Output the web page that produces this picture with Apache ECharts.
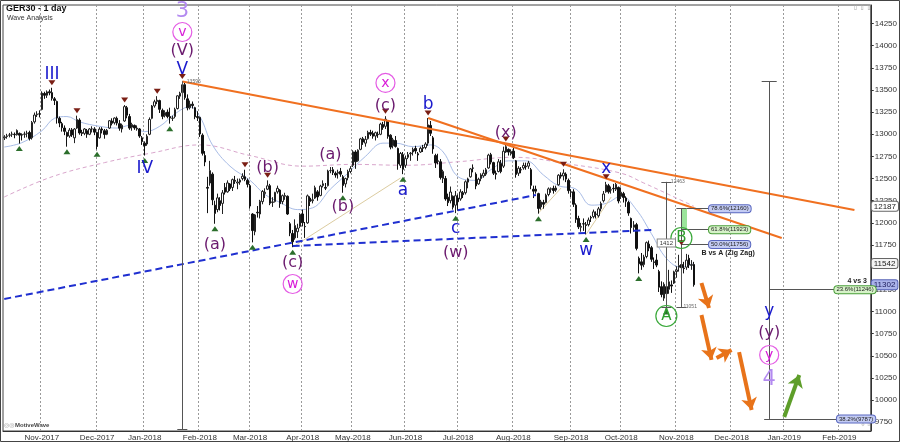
<!DOCTYPE html>
<html><head><meta charset="utf-8">
<script src="https://cdn.jsdelivr.net/npm/echarts@6/dist/echarts.min.js"></script>
<style>html,body{margin:0;padding:0;background:#fff}#c{width:900px;height:442px}</style>
</head><body><div id="c"></div>
<script>
// ---------------- DATA ----------------
const START_DAY = '2017-10-11';
const END_DAY = '2019-02-19';
const HOLIDAYS = ['2017-12-25','2017-12-26','2018-01-01','2018-03-30','2018-04-02','2018-05-01','2018-05-21','2018-10-03','2019-01-01'];
const MONTHS = ['Jan','Feb','Mar','Apr','May','Jun','Jul','Aug','Sep','Oct','Nov','Dec'];
const Y_TICKS = [9750,10000,10250,10500,10750,11000,11250,11500,11750,12000,12250,12500,12750,13000,13250,13500,13750,14000,14250];

// [date, open, close, low, high]
const CANDLES = [
['2017-10-11',12960,12970,12935,12990],['2017-10-12',12975,12982,12950,13005],['2017-10-13',12990,12992,12965,13015],
['2017-10-16',13000,13003,12970,13030],['2017-10-17',13000,12995,12955,13020],['2017-10-18',12995,13043,12985,13055],
['2017-10-19',13010,12990,12895,13020],['2017-10-20',12995,12991,12930,13010],['2017-10-23',13000,13003,12960,13030],
['2017-10-24',13010,13013,12965,13040],['2017-10-25',13020,12953,12930,13040],['2017-10-26',12960,13133,12940,13150],
['2017-10-27',13140,13217,13120,13245],['2017-10-30',13220,13229,13195,13260],['2017-10-31',13230,13229,13190,13270],
['2017-11-01',13280,13465,13270,13485],['2017-11-02',13460,13440,13400,13480],['2017-11-03',13440,13478,13410,13495],
['2017-11-06',13480,13468,13440,13505],['2017-11-07',13470,13406,13380,13525],['2017-11-08',13400,13382,13330,13420],
['2017-11-09',13370,13183,13120,13380],['2017-11-10',13180,13127,13080,13200],['2017-11-13',13120,13074,13030,13140],
['2017-11-14',13070,13033,12990,13100],['2017-11-15',13020,12976,12860,13030],['2017-11-16',12980,13047,12960,13070],
['2017-11-17',13050,12993,12970,13070],['2017-11-20',12960,13059,12900,13070],['2017-11-21',13070,13167,13060,13210],
['2017-11-22',13160,13015,12995,13180],['2017-11-23',13020,13008,12980,13050],['2017-11-24',13010,13060,12990,13070],
['2017-11-27',13040,13000,12960,13060],['2017-11-28',13000,13060,12990,13070],['2017-11-29',13060,13061,13020,13090],
['2017-11-30',13060,13024,12990,13080],
['2017-12-01',13020,12862,12830,13030],['2017-12-04',12960,13058,12950,13080],['2017-12-05',13060,13048,13010,13080],
['2017-12-06',13040,12998,12950,13060],['2017-12-07',13000,13045,12990,13060],['2017-12-08',13070,13153,13060,13160],
['2017-12-11',13150,13123,13100,13180],['2017-12-12',13130,13183,13110,13190],['2017-12-13',13180,13126,13100,13200],
['2017-12-14',13120,13069,13040,13160],['2017-12-15',13060,13103,13020,13120],['2017-12-18',13150,13312,13140,13330],
['2017-12-19',13300,13215,13180,13320],['2017-12-20',13200,13070,13050,13230],['2017-12-21',13080,13110,13040,13130],
['2017-12-22',13100,13072,13050,13110],['2017-12-27',13060,13070,13040,13100],['2017-12-28',13060,12980,12960,13070],
['2017-12-29',12960,12918,12880,12980],
['2018-01-02',12900,12871,12760,12920],['2018-01-03',12890,12978,12870,13000],['2018-01-04',13000,13167,12990,13190],
['2018-01-05',13180,13319,13170,13330],['2018-01-08',13320,13367,13300,13390],['2018-01-09',13370,13385,13340,13430],
['2018-01-10',13380,13282,13240,13390],['2018-01-11',13270,13202,13170,13290],['2018-01-12',13210,13245,13190,13270],
['2018-01-15',13250,13200,13180,13280],['2018-01-16',13200,13183,13120,13300],['2018-01-17',13180,13183,13150,13210],
['2018-01-18',13200,13281,13180,13300],['2018-01-19',13290,13434,13280,13440],['2018-01-22',13430,13463,13400,13480],
['2018-01-23',13470,13559,13450,13596],['2018-01-24',13560,13414,13390,13580],['2018-01-25',13400,13298,13270,13450],
['2018-01-26',13300,13340,13280,13380],['2018-01-29',13340,13324,13290,13370],['2018-01-30',13300,13197,13170,13310],
['2018-01-31',13200,13189,13150,13260],
['2018-02-01',13190,13004,12970,13200],['2018-02-02',12990,12785,12760,13010],['2018-02-05',12760,12687,12640,12810],
['2018-02-06',12400,12392,12110,12520],['2018-02-07',12450,12590,12420,12700],['2018-02-08',12550,12260,12200,12570],
['2018-02-09',12200,12107,11990,12250],['2018-02-12',12150,12282,12120,12330],['2018-02-13',12250,12196,12140,12290],
['2018-02-14',12220,12339,12100,12370],['2018-02-15',12400,12346,12320,12450],['2018-02-16',12350,12451,12340,12480],
['2018-02-19',12440,12385,12360,12450],['2018-02-20',12400,12488,12360,12500],['2018-02-21',12480,12470,12440,12530],
['2018-02-22',12450,12461,12380,12500],['2018-02-23',12460,12483,12430,12500],['2018-02-26',12500,12527,12480,12560],
['2018-02-27',12520,12490,12470,12600],['2018-02-28',12480,12435,12400,12500],
['2018-03-01',12420,12190,12160,12440],['2018-03-02',12100,11913,11780,12110],['2018-03-05',11900,12090,11860,12100],
['2018-03-06',12120,12113,12060,12190],['2018-03-07',12100,12245,12050,12260],['2018-03-08',12240,12355,12210,12370],
['2018-03-09',12330,12346,12280,12390],['2018-03-12',12380,12418,12370,12480],['2018-03-13',12420,12221,12200,12440],
['2018-03-14',12230,12237,12180,12290],['2018-03-15',12240,12345,12230,12350],['2018-03-16',12350,12390,12330,12420],
['2018-03-19',12370,12217,12170,12380],['2018-03-20',12240,12307,12210,12320],['2018-03-21',12300,12309,12260,12340],
['2018-03-22',12300,12100,12090,12310],['2018-03-23',11990,11886,11850,12010],['2018-03-26',11880,11787,11726,11920],
['2018-03-27',11830,11970,11810,12040],['2018-03-28',11900,11940,11830,11990],['2018-03-29',11960,12096,11940,12110],
['2018-04-03',12100,12002,11960,12150],['2018-04-04',11960,11957,11830,12010],['2018-04-05',12000,12305,11990,12320],
['2018-04-06',12280,12241,12190,12300],['2018-04-09',12250,12261,12220,12330],['2018-04-10',12280,12397,12270,12420],
['2018-04-11',12350,12293,12250,12370],['2018-04-12',12310,12415,12300,12430],['2018-04-13',12420,12442,12400,12480],
['2018-04-16',12400,12392,12370,12450],['2018-04-17',12420,12585,12410,12600],['2018-04-18',12590,12590,12560,12630],
['2018-04-19',12600,12567,12540,12630],['2018-04-20',12560,12540,12510,12580],['2018-04-23',12560,12572,12500,12600],
['2018-04-24',12580,12550,12520,12620],['2018-04-25',12520,12422,12340,12540],['2018-04-26',12440,12500,12400,12510],
['2018-04-27',12510,12580,12480,12600],['2018-04-30',12580,12612,12560,12640],
['2018-05-02',12650,12802,12630,12820],['2018-05-03',12800,12690,12610,12820],['2018-05-04',12700,12820,12690,12830],
['2018-05-07',12830,12948,12820,12960],['2018-05-08',12950,12912,12880,12970],['2018-05-09',12900,12943,12860,12980],
['2018-05-10',12950,13022,12940,13040],['2018-05-11',13020,13001,12980,13050],['2018-05-14',13010,12978,12950,13040],
['2018-05-15',12980,13018,12930,13030],['2018-05-16',13000,12996,12960,13030],['2018-05-17',13000,13115,12990,13130],
['2018-05-18',13110,13077,13050,13140],['2018-05-22',13090,13170,13060,13204],['2018-05-23',13150,12977,12950,13160],
['2018-05-24',12990,12855,12830,13000],['2018-05-25',12870,12938,12840,12960],['2018-05-28',12930,12863,12850,12980],
['2018-05-29',12840,12666,12600,12850],['2018-05-30',12650,12783,12620,12800],['2018-05-31',12770,12605,12550,12800],
['2018-06-01',12650,12725,12620,12760],['2018-06-04',12740,12770,12720,12800],['2018-06-05',12780,12787,12700,12800],
['2018-06-06',12800,12830,12760,12850],['2018-06-07',12840,12811,12780,12870],['2018-06-08',12780,12767,12700,12800],
['2018-06-11',12800,12842,12790,12860],['2018-06-12',12850,12842,12800,12880],['2018-06-13',12850,12890,12830,12910],
['2018-06-14',12900,13107,12870,13184],['2018-06-15',13100,13011,12980,13150],['2018-06-18',12960,12835,12780,12980],
['2018-06-19',12760,12677,12620,12780],['2018-06-20',12700,12695,12660,12780],['2018-06-21',12690,12512,12490,12720],
['2018-06-22',12500,12580,12450,12600],['2018-06-25',12500,12270,12250,12530],['2018-06-26',12290,12228,12190,12330],
['2018-06-27',12250,12348,12220,12410],['2018-06-28',12300,12177,12150,12310],['2018-06-29',12200,12306,12110,12360],
['2018-07-02',12280,12238,12140,12320],['2018-07-03',12270,12349,12250,12380],['2018-07-04',12340,12318,12280,12360],
['2018-07-05',12340,12464,12320,12480],['2018-07-06',12460,12496,12390,12510],['2018-07-09',12520,12609,12510,12620],
['2018-07-10',12620,12617,12570,12660],['2018-07-11',12550,12417,12380,12570],['2018-07-12',12440,12492,12430,12510],
['2018-07-13',12500,12541,12470,12560],['2018-07-16',12530,12561,12510,12600],['2018-07-17',12550,12600,12530,12620],
['2018-07-18',12620,12765,12610,12780],['2018-07-19',12770,12686,12660,12790],['2018-07-20',12680,12561,12540,12690],
['2018-07-23',12560,12548,12490,12590],['2018-07-24',12580,12689,12570,12720],['2018-07-25',12670,12579,12560,12710],
['2018-07-26',12640,12809,12620,12860],['2018-07-27',12800,12860,12790,12890],['2018-07-30',12830,12799,12760,12840],
['2018-07-31',12780,12806,12760,12830],
['2018-08-01',12810,12737,12720,12850],['2018-08-02',12700,12546,12510,12710],['2018-08-03',12560,12616,12530,12640],
['2018-08-06',12600,12598,12560,12630],['2018-08-07',12620,12648,12600,12680],['2018-08-08',12640,12633,12600,12680],
['2018-08-09',12640,12676,12610,12700],['2018-08-10',12600,12424,12380,12620],['2018-08-13',12380,12358,12280,12420],
['2018-08-14',12380,12358,12330,12420],['2018-08-15',12330,12163,12104,12340],['2018-08-16',12180,12237,12150,12260],
['2018-08-17',12230,12210,12160,12260],['2018-08-20',12230,12313,12220,12330],['2018-08-21',12320,12384,12300,12400],
['2018-08-22',12380,12385,12340,12400],['2018-08-23',12390,12365,12330,12420],['2018-08-24',12370,12394,12350,12420],
['2018-08-27',12430,12538,12420,12550],['2018-08-28',12540,12527,12500,12570],['2018-08-29',12530,12562,12480,12605],
['2018-08-30',12550,12494,12460,12570],['2018-08-31',12480,12364,12330,12500],
['2018-09-03',12350,12346,12290,12380],['2018-09-04',12350,12210,12180,12380],['2018-09-05',12200,12040,12000,12220],
['2018-09-06',12050,11955,11930,12080],['2018-09-07',11950,11960,11900,12000],['2018-09-10',11990,11987,11910,12050],
['2018-09-11',11980,11970,11870,12010],['2018-09-12',11980,12032,11960,12060],['2018-09-13',12060,12055,12010,12080],
['2018-09-14',12070,12124,12050,12150],['2018-09-17',12100,12096,12050,12130],['2018-09-18',12080,12158,12060,12180],
['2018-09-19',12160,12219,12130,12240],['2018-09-20',12250,12326,12230,12360],['2018-09-21',12350,12431,12340,12463],
['2018-09-24',12420,12350,12330,12440],['2018-09-25',12370,12374,12330,12410],['2018-09-26',12390,12385,12340,12440],
['2018-09-27',12380,12435,12360,12450],['2018-09-28',12400,12247,12220,12410],
['2018-10-01',12300,12346,12270,12400],['2018-10-02',12330,12287,12230,12350],['2018-10-04',12280,12244,12180,12300],
['2018-10-05',12230,12111,12080,12250],['2018-10-08',12050,11947,11880,12060],['2018-10-09',11950,11977,11900,12020],
['2018-10-10',11980,11712,11690,12000],['2018-10-11',11600,11539,11430,11620],['2018-10-12',11560,11523,11470,11660],
['2018-10-15',11530,11614,11500,11640],['2018-10-16',11620,11777,11600,11790],['2018-10-17',11760,11715,11680,11800],
['2018-10-18',11720,11589,11560,11740],['2018-10-19',11560,11553,11480,11610],['2018-10-22',11580,11524,11500,11650],
['2018-10-23',11450,11274,11220,11470],['2018-10-24',11280,11191,11160,11340],['2018-10-25',11150,11307,11120,11330],
['2018-10-26',11280,11201,11051,11300],['2018-10-29',11250,11335,11200,11470],['2018-10-30',11300,11287,11210,11350],
['2018-10-31',11320,11447,11310,11460],
['2018-11-01',11450,11468,11380,11510],['2018-11-02',11500,11519,11450,11640],['2018-11-05',11530,11494,11440,11720],
['2018-11-06',11490,11484,11430,11560],['2018-11-07',11500,11579,11470,11650],['2018-11-08',11600,11527,11490,11640],
['2018-11-09',11520,11529,11470,11580],['2018-11-12',11530,11302,11280,11560]
];

// moving averages at sample dates
const MA_SHORT = [
['2017-10-11',12856],['2017-10-20',12905],['2017-11-01',13040],['2017-11-08',13180],['2017-11-15',13200],
['2017-11-22',13140],['2017-12-04',13090],['2017-12-13',13070],['2017-12-20',13100],['2018-01-02',13030],
['2018-01-10',13090],['2018-01-18',13230],['2018-01-26',13310],['2018-02-01',13200],['2018-02-08',12880],
['2018-02-19',12640],['2018-03-01',12480],['2018-03-09',12320],['2018-03-19',12230],['2018-03-28',12150],
['2018-04-09',12170],['2018-04-18',12380],['2018-04-27',12560],['2018-05-09',12750],['2018-05-18',12900],
['2018-05-28',12900],['2018-06-06',12860],['2018-06-15',12880],['2018-06-22',12800],['2018-07-02',12520],
['2018-07-11',12480],['2018-07-19',12600],['2018-07-30',12700],['2018-08-08',12700],['2018-08-17',12540],
['2018-08-27',12420],['2018-09-05',12380],['2018-09-13',12200],['2018-09-21',12220],['2018-10-01',12300],
['2018-10-10',12150],['2018-10-18',11880],['2018-10-26',11600],['2018-11-05',11500],['2018-11-12',11542]
];
const MA_LONG = [
['2017-10-11',12292],['2017-11-07',12520],['2017-12-06',12680],['2018-01-05',12790],['2018-02-01',12880],
['2018-03-01',12760],['2018-04-03',12640],['2018-05-02',12660],['2018-06-01',12650],['2018-07-02',12690],
['2018-08-01',12740],['2018-09-03',12660],['2018-10-01',12560],['2018-10-15',12450],['2018-10-29',12320],
['2018-11-12',12187]
];

const SWING_HIGHS = ['2017-11-07','2017-11-21','2017-12-18','2018-01-09','2018-01-23','2018-02-27','2018-03-12',
  '2018-05-22','2018-06-14','2018-07-27','2018-08-29','2018-09-21','2018-11-05'];
const SWING_LOWS = ['2017-10-19','2017-11-15','2017-12-01','2018-01-02','2018-01-16','2018-02-09','2018-03-02',
  '2018-03-26','2018-04-25','2018-05-31','2018-06-29','2018-08-15','2018-09-11','2018-10-11','2018-10-26'];

// [date, price, text, kind]
const WAVE_LABELS = [
['2018-01-23',14390,'3','num'],['2018-01-23',14154,'v','circM'],['2018-01-23',13940,'(V)','purple'],
['2018-01-23',13725,'V','blue'],['2017-11-07',13669,'III','blue'],['2018-01-02',12608,'IV','blue'],
['2018-02-09',11750,'(a)','purple'],['2018-03-12',12619,'(b)','purple'],['2018-03-26',11547,'(c)','purple'],
['2018-03-26',11310,'w','circM'],['2018-04-18',12766,'(a)','purple'],['2018-04-25',12179,'(b)','purple'],
['2018-05-22',13579,'x','circM'],['2018-05-22',13319,'(c)','purple'],['2018-05-31',12360,'a','blue'],
['2018-06-14',13330,'b','blue'],['2018-06-29',11931,'c','blue'],['2018-06-29',11660,'(w)','purple'],
['2018-07-27',13014,'(x)','purple'],['2018-09-21',12608,'x','blue'],['2018-09-11',11683,'w','blue'],
['2018-11-05',11829,'B','circG'],['2018-10-26',10949,'A','circG'],
['2018-12-24',10994,'y','blue'],['2018-12-24',10757,'(y)','purple'],['2018-12-24',10509,'y','circM'],
['2018-12-24',10227,'4','num']
];

const ORANGE_LINES = [[['2018-01-23',13596],['2019-02-11',12145]], [['2018-06-14',13184],['2018-12-31',11829]]];
const BLUE_DASHED = [[['2017-10-11',11141],['2018-08-14',12314]], [['2018-03-26',11739],['2018-10-18',11919]]];
const GUIDE_LINES = [[['2018-03-26',11726],['2018-05-30',12506]], [['2018-08-15',12111],['2018-08-28',12393]], [['2018-09-11',11870],['2018-09-25',12292]]];
const ORANGE_ARROWS = [
 [['2018-11-15',11321],['2018-11-20',11039]],
 [['2018-11-15',10960],['2018-11-21',10454]],
 [['2018-11-23',10475],['2018-12-03',10565]],
 [['2018-12-06',10542],['2018-12-13',9888]]
];
const GREEN_ARROWS = [[['2019-01-02',9809],['2019-01-10',10283]]];

// wave-3 top, wave A measure, B-vs-A and 4-vs-3 fib levels
const V_TOP = ['2018-01-23',13596];
const V_DROP_END = 9673;
const A_MEASURE = ['2018-10-26',12463,11051];
const B_MEASURE = ['2018-11-05',11051];
const B_FIBS = [[78.6,12160],[61.8,11923],[50.0,11756]];
const B_FIB_END = '2018-11-20';
const W4_MEASURE = ['2018-12-24',13596];
const W4_FIBS = [[23.6,11246,'2019-01-30'],[38.2,9787,'2019-01-31']];
const AXIS_MARKS = [[12187,'white'],[11542,'grey'],[11302,'blue']];

// ---------------- BUILD ----------------
function buildDates(){
  const out=[]; let t=Date.parse(START_DAY+'T00:00:00Z'); const e=Date.parse(END_DAY+'T00:00:00Z');
  while(t<=e){ const d=new Date(t); const wd=d.getUTCDay(); const s=d.toISOString().slice(0,10);
    if(wd!==0&&wd!==6&&HOLIDAYS.indexOf(s)<0) out.push(s); t+=86400000; }
  return out;
}
const dates = buildDates();
const idxOf = {}; dates.forEach((d,i)=>idxOf[d]=i);
const I = d => idxOf[d];
const monthStart = new Set();
dates.forEach((d,i)=>{ if(i>0 && d.slice(0,7)!==dates[i-1].slice(0,7)) monthStart.add(i); });

const byDate = {}; CANDLES.forEach(r=>byDate[r[0]]=r.slice(1));
const lastIdx = I(CANDLES[CANDLES.length-1][0]);
const candleData = [];
for(let i=0;i<=lastIdx;i++){ const r=byDate[dates[i]]; candleData.push(r?r:'-'); }

const FONT = '"DejaVu Sans", Verdana, sans-serif';
const SFONT = '"Liberation Sans", Arial, sans-serif';

const seg = (a,b)=>({coords:[[I(a[0]),a[1]],[I(b[0]),b[1]]]});
function linesSeries(list, style, extra){
  return Object.assign({type:'lines', coordinateSystem:'cartesian2d', polyline:false, silent:true,
    symbol:['none','none'], lineStyle:Object.assign({opacity:1}, style), data:list.map(s=>seg(s[0],s[1]))}, extra||{});
}

// measurement lines
const measure = [];
const vi = I(V_TOP[0]);
measure.push({coords:[[vi,V_TOP[1]],[vi,V_DROP_END]]});
measure.push({coords:[[vi-2,V_DROP_END],[vi+2,V_DROP_END]]});
const ai = I(A_MEASURE[0]);
measure.push({coords:[[ai,A_MEASURE[1]],[ai,A_MEASURE[2]]]});
measure.push({coords:[[ai-2,A_MEASURE[1]],[ai+2,A_MEASURE[1]]]});
measure.push({coords:[[ai-2,A_MEASURE[2]],[ai+2,A_MEASURE[2]]]});
const bi = I(B_MEASURE[0]);
measure.push({coords:[[bi,B_MEASURE[1]],[bi,B_FIBS[0][1]]]});
measure.push({coords:[[bi-2,B_FIBS[0][1]],[bi+2,B_FIBS[0][1]]]});
measure.push({coords:[[bi-2,B_MEASURE[1]],[bi+2,B_MEASURE[1]]]});
B_FIBS.forEach((f,k)=>measure.push({coords:[[k===0?bi+2:bi,f[1]],[I(B_FIB_END),f[1]]]}));
const wi = I(W4_MEASURE[0]);
measure.push({coords:[[wi,W4_MEASURE[1]],[wi,W4_FIBS[1][1]]]});
measure.push({coords:[[wi-3,W4_MEASURE[1]],[wi+3,W4_MEASURE[1]]]});
measure.push({coords:[[wi-2,W4_FIBS[1][1]],[wi+2,W4_FIBS[1][1]]]});
measure.push({coords:[[wi,W4_FIBS[0][1]],[I(W4_FIBS[0][2]),W4_FIBS[0][1]]]});
measure.push({coords:[[wi,W4_FIBS[1][1]],[dates.length-1,W4_FIBS[1][1]]]});

const STYLES = {
  blue:{color:'#1a1acd', size:17},
  purple:{color:'#6b1a6e', size:16},
  num:{color:'#b38af0', size:21},
  circM:{color:'#d81bd8', size:14, ring:'#e45be4', sym:19},
  circG:{color:'#2e9e2e', size:15, ring:'#3aa83a', sym:21}
};
const labelSeries = Object.keys(STYLES).map(k=>{
  const st = STYLES[k];
  return {type:'scatter', z:20, silent:true, clip:false,
    symbol:'circle', symbolSize: st.sym || 0,
    itemStyle: st.ring ? {color:'rgba(255,255,255,0)', borderColor:st.ring, borderWidth:1.2, opacity:1} : {color:'rgba(0,0,0,0)', opacity:1},
    label:{show:true, position:'inside', formatter:'{b}', color:st.color, fontSize:st.size, fontFamily:FONT, opacity:1},
    data: WAVE_LABELS.filter(w=>w[3]===k).map(w=>({name:w[2], value:[I(w[0]),w[1]]}))
  };
});

const boxBlue = {backgroundColor:'#c3cbf3', borderColor:'#5a68c0'};
const boxGreen = {backgroundColor:'#d6f2c8', borderColor:'#4a9e3a'};
const fibLabelData = [];
B_FIBS.forEach(f=>{
  const b = f[0]===61.8 ? boxGreen : boxBlue;
  fibLabelData.push({name:f[0].toFixed(1)+'%('+f[1]+')', value:[I(B_FIB_END),f[1]], label:Object.assign({},b)});
});
W4_FIBS.forEach(f=>{
  const b = f[0]===23.6 ? boxGreen : boxBlue;
  fibLabelData.push({name:f[0].toFixed(1)+'%('+f[1]+')', value:[I(f[2]),f[1]], label:Object.assign({},b)});
});

const smallText = [
  {name:String(A_MEASURE[1]), value:[ai+1,A_MEASURE[1]]},
  {name:String(A_MEASURE[2]), value:[bi,A_MEASURE[2]]},
  {name:String(V_TOP[1]), value:[vi+1,V_TOP[1]]}
];
const txtScatter = (label, data, z) => ({type:'scatter', silent:true, clip:false, z:z||21, symbolSize:0,
  itemStyle:{color:'rgba(0,0,0,0)', opacity:1}, label:Object.assign({show:true, formatter:'{b}', opacity:1}, label), data});

const option = {
  animation:false,
  backgroundColor:'#ffffff',
  grid:{left:3, right:27, top:5, bottom:11, show:true, borderColor:'#444', borderWidth:1},
  xAxis:{type:'category', data:dates, boundaryGap:true,
    axisLine:{show:true, lineStyle:{color:'#333'}}, axisTick:{show:false, interval:(i)=>monthStart.has(i)},
    axisLabel:{interval:(i)=>monthStart.has(i), formatter:(v)=>MONTHS[+v.slice(5,7)-1]+'-'+v.slice(0,4),
      fontSize:8, color:'#333', margin:3, fontFamily:SFONT},
    splitLine:{show:true, interval:(i)=>monthStart.has(i), lineStyle:{color:'#9a9a9a', type:[2,2], width:1}}
  },
  yAxis:{type:'value', position:'right', min:9651, max:14459, scale:true,
    axisLine:{show:true, lineStyle:{color:'#333'}},
    axisTick:{show:true, length:3, customValues:Y_TICKS, lineStyle:{color:'#333'}},
    axisLabel:{customValues:Y_TICKS, formatter:(v)=>String(v), fontSize:8, color:'#333', margin:4, fontFamily:SFONT},
    splitLine:{show:false}
  },
  series:[
    {type:'line', data:MA_LONG.filter(p=>I(p[0])!=null).map(p=>[I(p[0]),p[1]]), smooth:0.4, showSymbol:false, silent:true,
      lineStyle:{color:'#d9a6cc', width:1, type:[4,3]}, z:1},
    {type:'line', data:MA_SHORT.filter(p=>I(p[0])!=null).map(p=>[I(p[0]),p[1]]), smooth:0.4, showSymbol:false, silent:true,
      lineStyle:{color:'#a8bce6', width:1}, z:1},
    {type:'candlestick', data:candleData, barWidth:2, z:3,
      itemStyle:{color:'#ffffff', color0:'#111111', borderColor:'#222222', borderColor0:'#111111', borderWidth:1},
      markLine:{silent:true, symbol:['none','none'], animation:false,
        lineStyle:{color:'rgba(0,0,0,0)', width:0},
        data: AXIS_MARKS.map(m=>({yAxis:m[0], label:{show:true, position:'end', distance:1, formatter:String(m[0]),
          fontSize:8, fontFamily:SFONT, padding:[1,2,0,2], borderRadius:2, borderWidth:1,
          color: m[1]==='blue' ? '#1a1a5a' : '#222',
          backgroundColor: m[1]==='blue' ? '#aab3ea' : (m[1]==='grey' ? '#f4f4f4' : '#ffffff'),
          borderColor: m[1]==='blue' ? '#5561b5' : '#666'}}))
      }
    },
    linesSeries(GUIDE_LINES, {color:'#dccca0', width:1}, {z:2}),
    linesSeries(BLUE_DASHED, {color:'#1f2fd0', width:2, type:[7,4]}, {z:5}),
    linesSeries(ORANGE_LINES, {color:'#f07020', width:2}, {z:5}),
    {type:'lines', coordinateSystem:'cartesian2d', silent:true, symbol:['none','none'], z:6,
      lineStyle:{color:'#555', width:1, opacity:1}, data:measure},
    {type:'lines', coordinateSystem:'cartesian2d', silent:true, symbol:['none','none'], z:5,
      lineStyle:{color:'#9be59b', width:6, opacity:1},
      data:[{coords:[[bi+1,B_FIBS[1][1]],[bi+1,B_FIBS[0][1]]]}]},
    linesSeries(ORANGE_ARROWS, {color:'#e8731a', width:4}, {symbol:['none','arrow'], symbolSize:[0,12], z:8}),
    linesSeries(GREEN_ARROWS, {color:'#5e9e2a', width:4}, {symbol:['none','arrow'], symbolSize:[0,12], z:8}),
    {type:'scatter', silent:true, z:10, symbol:'triangle', symbolRotate:180, symbolSize:[7,5], symbolOffset:[0,-5],
      itemStyle:{color:'#7a1e14', opacity:1}, data:SWING_HIGHS.map(d=>[I(d), byDate[d][3]])},
    {type:'scatter', silent:true, z:10, symbol:'triangle', symbolSize:[7,5], symbolOffset:[0,5],
      itemStyle:{color:'#2b6e2b', opacity:1}, data:SWING_LOWS.map(d=>[I(d), byDate[d][2]])},
    ...labelSeries,
    txtScatter({position:'right', distance:0, fontSize:6, fontFamily:SFONT, color:'#222',
        padding:[1,2,0,2], borderRadius:3, borderWidth:1}, fibLabelData),
    txtScatter({position:'right', distance:2, fontSize:5, fontFamily:SFONT, color:'#666'}, smallText),
    txtScatter({position:'inside', fontSize:6, fontFamily:SFONT, color:'#333',
        backgroundColor:'#fff', borderColor:'#888', borderWidth:1, padding:[1,2,0,2]},
      [{name:String(A_MEASURE[1]-A_MEASURE[2]), value:[ai,11773]}]),
    txtScatter({fontWeight:'bold', fontFamily:SFONT, color:'#222', distance:0}, [
        {name:'B vs A (Zig Zag)', value:[I('2018-11-15'),11660], label:{position:'right', fontSize:7}},
        {name:'4 vs 3', value:[I('2019-02-18'),11344], label:{position:'left', fontSize:7}}
      ])
  ],
  graphic:[
    {type:'rect', shape:{x:0.5,y:0.5,width:899,height:441}, style:{fill:'none', stroke:'#444', lineWidth:1}, silent:true},
    {type:'text', left:6, top:4, style:{text:'GER30 - 1 day', font:'bold 9px '+SFONT, fill:'#111'}},
    {type:'text', left:7, top:15, style:{text:'Wave Analysis', font:'7px '+SFONT, fill:'#333'}},
    {type:'text', left:852, top:4, style:{text:'\u21E7\u21E7\u21E7', font:'8px "DejaVu Sans"', fill:'#aaa'}},
    {type:'text', left:860, top:421, style:{text:'\u21E9\u21E7', font:'7px "DejaVu Sans"', fill:'#aaa'}},
    {type:'text', left:4, top:422, style:{text:'\u25CE\u25CE', font:'6px "DejaVu Sans"', fill:'#999'}},
    {type:'text', left:15, top:422, style:{text:'MotiveWave', font:'bold 6px '+SFONT, fill:'#444'}}
  ]
};
const chart = echarts.init(document.getElementById('c'));
chart.setOption(option);
</script></body></html>
